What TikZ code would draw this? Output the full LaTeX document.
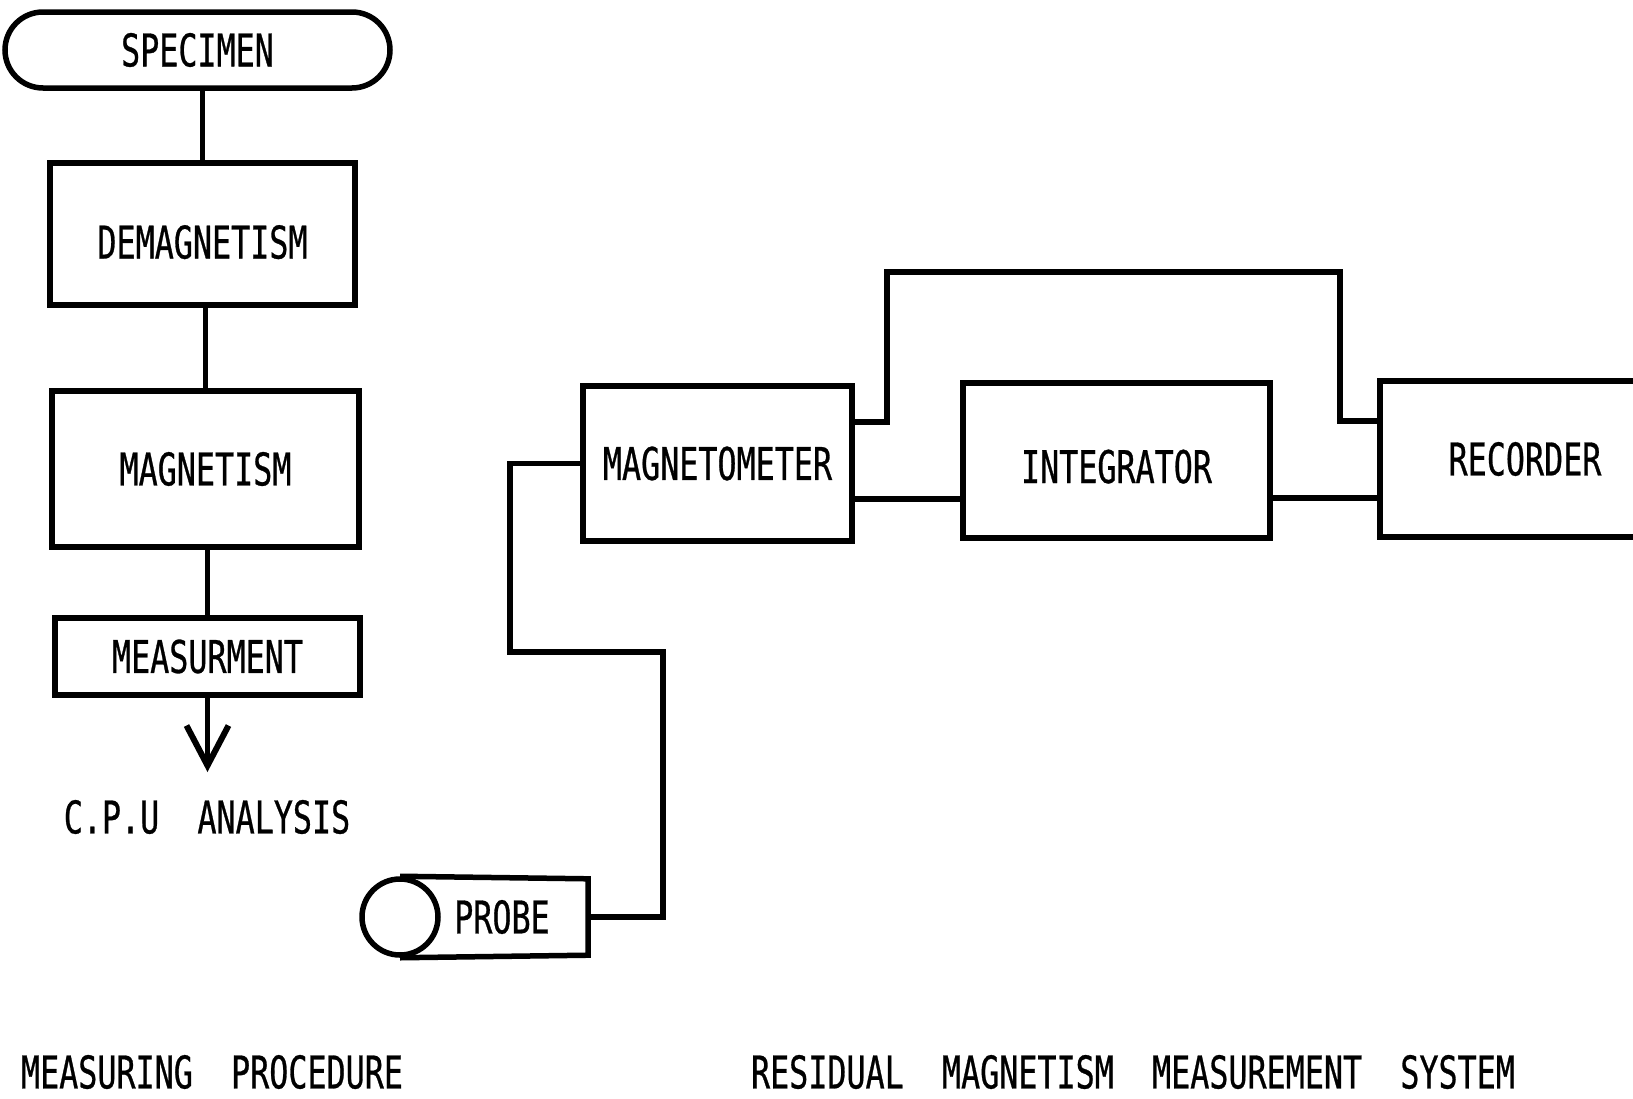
\documentclass[tikz,border=0pt]{standalone}
\usepackage{fontspec}
\newfontfamily\plotfont[FakeStretch=0.705,FakeBold=0.6]{DejaVu Sans Mono}
\usetikzlibrary{arrows.meta}
\begin{document}
\begin{tikzpicture}[x=1pt,y=-1pt,
  every node/.style={font=\plotfont\fontsize{45}{54}\selectfont, text=black, inner sep=0pt},
  box/.style={draw, line width=5.5pt},
  wire/.style={line width=5.5pt, line join=miter}]
\clip (0,0) rectangle (1633,1098);
\fill[white] (0,0) rectangle (1633,1098);
% left flow chart
\node[box, rounded corners=38pt, minimum width=385pt, minimum height=76pt] (spec) at (197.5,50) {SPECIMEN};
\node[box, minimum width=305pt, minimum height=142pt, text height=49pt, text depth=0pt] (demag) at (202.5,234) {DEMAGNETISM};
\node[box, minimum width=307pt, minimum height=156pt] (mag) at (205.5,469) {MAGNETISM};
\node[box, minimum width=305pt, minimum height=77pt] (meas) at (207.5,656.5) {MEASURMENT};
\coordinate (cpuend) at (207.5,772);
\node (cpu) at (207,817) {C.P.U\ \ ANALYSIS};
\draw[wire] (demag.north) -- (demag.north |- spec.south);
\draw[wire] (mag.north) -- (mag.north |- demag.south);
\draw[wire] (meas.north) -- (meas.north |- mag.south);
\draw[wire, -{Straight Barb[length=40pt,width=42pt,line width=6pt]}] (meas.south) -- (cpuend);
% right system
\node[box, minimum width=269pt, minimum height=155pt] (magneto) at (717.5,463.5) {MAGNETOMETER};
\node[box, minimum width=307pt, minimum height=155pt, text height=45pt, text depth=0pt] (integ) at (1116.5,460.5) {INTEGRATOR};
\node[box, minimum width=290pt, minimum height=156pt] (rec) at (1525,459) {RECORDER};
\node[draw, circle, line width=5.5pt, minimum size=76pt] (probecirc) at (400,917) {};
\node[minimum width=172pt, minimum height=76pt] (probe) at (502,917) {PROBE};
\draw[wire] (probecirc.north) -- (probe.north east) -- (probe.south east) -- (probecirc.south);
% connectors
\draw[wire] (probe.east) -- (663,917) |- (510,652) |- (magneto.west);
\draw[wire] (magneto.east |- 0,422) -- (887,422) |- (1340,272) |- (rec.west |- 0,421);
\draw[wire] (magneto.east |- 0,499) -- (integ.west |- 0,499);
\draw[wire] (integ.east |- 0,498) -- (rec.west |- 0,498);
% captions
\node (cap1) at (212,1072) {MEASURING\ \ PROCEDURE};
\node (cap2) at (1133,1072) {RESIDUAL\ \ MAGNETISM\ \ MEASUREMENT\ \ SYSTEM};
\end{tikzpicture}
\end{document}
